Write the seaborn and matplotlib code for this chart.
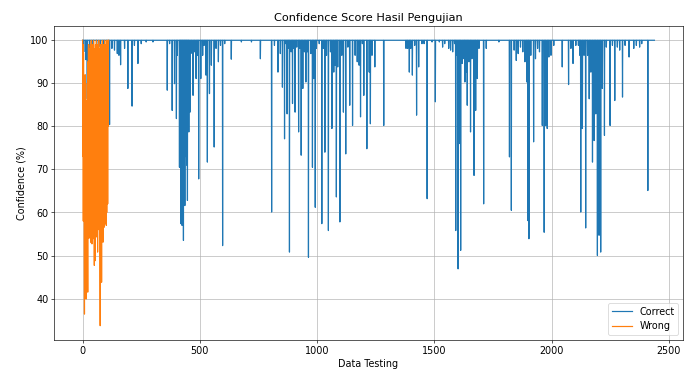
import numpy as np
import pandas as pd
import matplotlib
matplotlib.use("Agg")
import matplotlib.pyplot as plt
import seaborn as sns

# ==================== data ====================
n_correct = 2439          # number of correctly classified test samples
baseline = 100.0          # most correct samples sit at ~100% confidence

# positions of the visible dips in the "Correct" curve and their values
dip_idx = [
    5, 14, 20, 30, 45, 60, 75, 90, 104, 115, 125, 136, 148, 155, 162, 179, 193, 211,
    221, 236, 250, 271, 300, 361, 371, 382, 392, 400, 404, 413, 416, 419, 421, 424,
    427, 430, 433, 436, 438, 441, 444, 447, 450, 453, 458, 464, 471, 478, 484, 490,
    495, 504, 512, 518, 526, 532, 541, 549, 561, 569, 579, 588, 597, 606, 634, 677,
    720, 758, 806, 818, 833, 843, 852, 861, 867, 872, 878, 882, 889, 895, 901, 906,
    913, 921, 926, 932, 939, 946, 952, 958, 963, 973, 980, 986, 992, 997, 1009, 1020,
    1027, 1033, 1040, 1048, 1057, 1063, 1071, 1077, 1082, 1088, 1097, 1105, 1112,
    1122, 1131, 1139, 1151, 1162, 1171, 1179, 1185, 1193, 1199, 1212, 1222, 1227,
    1234, 1246, 1284, 1379, 1386, 1393, 1399, 1406, 1416, 1424, 1433, 1447, 1456,
    1469, 1490, 1504, 1521, 1535, 1544, 1561, 1569, 1578, 1586, 1591, 1596, 1601,
    1606, 1612, 1618, 1626, 1630, 1635, 1640, 1647, 1654, 1660, 1669, 1676, 1683,
    1690, 1710, 1721, 1775, 1820, 1828, 1840, 1849, 1857, 1867, 1877, 1886, 1894,
    1899, 1903, 1911, 1923, 1931, 1940, 1948, 1960, 1968, 1974, 1981, 1988, 1997,
    2009, 2045, 2072, 2082, 2091, 2103, 2114, 2120, 2124, 2131, 2138, 2145, 2153,
    2160, 2167, 2174, 2181, 2188, 2195, 2202, 2209, 2216, 2225, 2233, 2249, 2259,
    2269, 2280, 2290, 2302, 2313, 2330, 2350, 2361, 2375, 2384, 2410,
]
dip_val = [
    97.3, 95.5, 86.4, 96.9, 98.1, 97.3, 98.5, 97.7, 98.8, 80.4, 98.1, 97.7, 96.9, 96.5,
    94.3, 98.1, 88.8, 84.7, 98.8, 94.6, 99.2, 99.6, 99.6, 88.4, 99.2, 83.7, 89.9, 81.8,
    96.5, 70.5, 76.0, 57.4, 72.0, 57.0, 75.0, 53.5, 70.0, 61.6, 73.0, 77.9, 71.0, 62.8,
    80.0, 78.7, 83.3, 97.0, 87.2, 97.3, 91.1, 96.5, 67.8, 91.1, 96.5, 98.8, 91.9, 71.7,
    87.6, 94.2, 75.2, 98.1, 95.0, 98.8, 52.3, 99.2, 95.6, 99.6, 99.6, 95.7, 60.1, 98.8,
    92.6, 96.9, 89.1, 77.1, 99.2, 82.9, 98.1, 50.8, 97.3, 85.3, 98.1, 83.3, 98.4, 78.7,
    98.1, 73.3, 88.8, 97.3, 90.3, 97.3, 49.6, 96.9, 70.5, 91.1, 61.2, 98.1, 99.2, 57.4,
    98.1, 74.0, 96.5, 55.8, 97.3, 79.5, 92.6, 94.2, 63.6, 93.8, 57.8, 96.5, 83.3, 73.6,
    98.4, 84.9, 80.2, 96.5, 95.0, 94.2, 82.2, 99.2, 87.2, 74.8, 92.6, 80.6, 96.5, 93.8,
    80.2, 98.1, 98.1, 92.6, 98.1, 91.9, 98.8, 82.6, 93.8, 99.2, 99.2, 63.2, 99.6, 85.7,
    99.6, 98.4, 99.2, 98.1, 97.7, 97.3, 99.2, 55.8, 96.5, 46.9, 76.0, 51.2, 94.6, 95.7,
    90.3, 92.6, 84.9, 95.0, 78.7, 95.7, 68.6, 83.7, 91.1, 98.1, 62.0, 98.1, 99.6, 72.9,
    60.5, 97.7, 95.3, 96.9, 98.4, 97.3, 95.0, 90.3, 58.1, 53.9, 96.5, 76.4, 95.7, 98.1,
    97.3, 80.2, 55.4, 80.2, 79.5, 96.1, 96.5, 98.8, 93.8, 89.7, 98.1, 94.6, 98.8, 98.8,
    96.5, 60.1, 79.5, 96.5, 56.4, 96.5, 86.4, 92.6, 71.7, 76.7, 82.9, 50.0, 54.7, 50.8,
    88.8, 77.9, 98.4, 80.2, 98.8, 86.0, 98.4, 97.7, 86.8, 98.8, 96.1, 98.1, 98.8, 98.4,
    99.2, 65.1,
]

# confidence of the wrongly classified samples
wrong_val = [
    100, 73, 99, 58, 97, 62, 88, 55, 36.4, 85, 58, 92, 41, 78, 60, 39.9, 86, 57, 80, 55,
    90, 62, 41.5, 95, 54, 99, 60, 94, 54.3, 98, 58, 88, 54, 99, 62, 96, 53, 100, 58, 97,
    52.7, 91, 60, 99, 53.9, 95, 57, 100, 62, 93, 47.7, 98, 56, 96, 48.8, 99, 59, 94, 54.3,
    100, 57, 97, 61, 92, 50.8, 99, 58, 96, 63, 100, 56, 95, 60, 98, 55, 33.7, 88, 58, 99,
    62, 96, 43.8, 97, 57, 100, 60, 93, 53.1, 99, 59, 96, 62, 98, 56.6, 100, 61, 97, 57.4,
    99, 64, 95, 57, 100, 60, 98, 66, 97, 62, 100, 80, 99, 100,
]

series_labels = ["Correct", "Wrong"]

# build the full correct curve from the baseline and the dips
correct_val = np.full(n_correct, baseline)
correct_val[dip_idx] = dip_val

df_correct = pd.DataFrame({"Index": np.arange(n_correct), "Confidence": correct_val})
df_wrong = pd.DataFrame({"Index": np.arange(len(wrong_val)), "Confidence": wrong_val})

# ==================== plot ====================
plt.rcParams["font.size"] = 12
plt.rcParams["axes.titlesize"] = 14

fig = plt.figure(figsize=(12, 6.39), dpi=57.75)
ax = fig.add_axes([54 / 693, 1 - 340 / 369, 629 / 693, 314 / 369])

sns.lineplot(data=df_correct, x="Index", y="Confidence", ax=ax, color="#1f77b4",
             label=series_labels[0], estimator=None, sort=False, linewidth=1.5)
sns.lineplot(data=df_wrong, x="Index", y="Confidence", ax=ax, color="#ff7f0e",
             label=series_labels[1], estimator=None, sort=False, linewidth=1.5)

ax.set_title("Confidence Score Hasil Pengujian")
ax.set_xlabel("Data Testing")
ax.set_ylabel("Confidence (%)")
ax.grid(True)
ax.legend(loc="lower right", fontsize=12)

fig.savefig("out.png", dpi=57.75)
